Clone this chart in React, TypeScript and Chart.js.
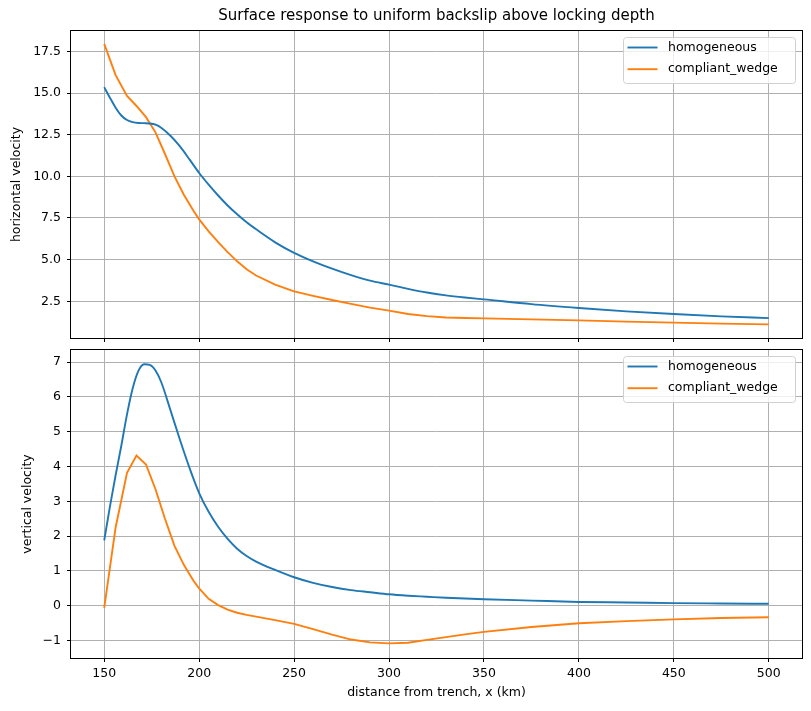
import React, { useEffect, useRef } from 'react';
import { Chart, registerables } from 'chart.js';

Chart.register(...registerables);

// Distance from trench (km) for the homogeneous model profiles
const distanceKm = [150, 153, 156, 159, 162, 165, 168, 171, 174, 177, 180, 185, 190, 195, 200, 205, 210, 215, 220, 225, 230, 240, 250, 260, 270, 280, 290, 300, 310, 320, 330, 340, 350, 375, 400, 425, 450, 475, 500];
// Distance from trench (km) for the compliant-wedge model profiles
const wedgeKm = [150, 156, 162, 167, 172, 177, 182, 187, 192, 197, 200, 205, 210, 215, 220, 225, 230, 240, 250, 260, 270, 280, 290, 300, 310, 320, 330, 340, 350, 375, 400, 425, 450, 475, 500];

const horizHomogeneous = [15.35, 14.72, 14.12, 13.65, 13.38, 13.25, 13.2, 13.19, 13.17, 13.1, 12.92, 12.42, 11.78, 11.0, 10.2, 9.5, 8.85, 8.25, 7.72, 7.24, 6.82, 6.04, 5.41, 4.9, 4.46, 4.07, 3.74, 3.5, 3.25, 3.03, 2.86, 2.73, 2.62, 2.33, 2.1, 1.9, 1.74, 1.6, 1.49];
const horizWedge = [17.95, 16.07, 14.82, 14.22, 13.55, 12.64, 11.34, 10.0, 8.88, 7.93, 7.42, 6.7, 6.05, 5.45, 4.9, 4.42, 4.05, 3.5, 3.1, 2.83, 2.58, 2.35, 2.12, 1.94, 1.74, 1.61, 1.53, 1.5, 1.48, 1.42, 1.36, 1.28, 1.22, 1.16, 1.12];

const vertHomogeneous = [1.88, 2.85, 3.75, 4.6, 5.5, 6.25, 6.75, 6.94, 6.92, 6.76, 6.43, 5.6, 4.75, 3.95, 3.24, 2.7, 2.27, 1.92, 1.64, 1.43, 1.27, 1.03, 0.82, 0.66, 0.54, 0.45, 0.39, 0.33, 0.29, 0.26, 0.23, 0.21, 0.19, 0.15, 0.11, 0.095, 0.076, 0.066, 0.057];
const vertWedge = [-0.06, 2.25, 3.82, 4.32, 4.06, 3.35, 2.5, 1.72, 1.17, 0.72, 0.5, 0.2, 0.02, -0.11, -0.2, -0.26, -0.31, -0.41, -0.52, -0.67, -0.83, -0.97, -1.05, -1.08, -1.06, -0.98, -0.9, -0.82, -0.75, -0.61, -0.5, -0.44, -0.39, -0.35, -0.33];

const xTicks = [150, 200, 250, 300, 350, 400, 450, 500];
const horizTicks = [2.5, 5, 7.5, 10, 12.5, 15, 17.5];
const horizTickLabels = ['2.5', '5.0', '7.5', '10.0', '12.5', '15.0', '17.5'];
const vertTicks = [-1, 0, 1, 2, 3, 4, 5, 6, 7];
const vertTickLabels = ['\u22121', '0', '1', '2', '3', '4', '5', '6', '7'];

const BLUE = '#1f77b4';
const ORANGE = '#ff7f0e';
const FAMILY = "'DejaVu Sans', sans-serif";

Chart.defaults.font.family = FAMILY;
Chart.defaults.font.size = 12.5;
Chart.defaults.color = '#000';

// Black box around the plotting area
const framePlugin = {
  id: 'frame',
  afterDatasetsDraw(chart: any) {
    const { ctx, chartArea: a } = chart;
    ctx.save();
    ctx.strokeStyle = '#000';
    ctx.lineWidth = 1;
    ctx.strokeRect(a.left - 0.5, a.top - 0.5, a.right - a.left + 1, a.bottom - a.top + 1);
    ctx.restore();
  },
};

// Legend box in the upper right corner of the plotting area
const cornerLegend = {
  id: 'cornerLegend',
  afterDraw(chart: any) {
    const { ctx, chartArea: a } = chart;
    const w = 172;
    const h = 46;
    const x = Math.round(a.right - 7 - w) + 0.5;
    const y = Math.round(a.top + 6) + 0.5;
    ctx.save();
    ctx.beginPath();
    ctx.roundRect(x, y, w, h, 3);
    ctx.fillStyle = 'rgba(255,255,255,0.8)';
    ctx.fill();
    ctx.strokeStyle = '#d0d0d0';
    ctx.lineWidth = 1;
    ctx.stroke();
    chart.data.datasets.forEach((ds: any, i: number) => {
      const cy = y + 10 + i * 21.7;
      ctx.strokeStyle = ds.borderColor;
      ctx.lineWidth = 1.9;
      ctx.beginPath();
      ctx.moveTo(x + 4, cy);
      ctx.lineTo(x + 34, cy);
      ctx.stroke();
      ctx.fillStyle = '#000';
      ctx.font = `12.5px ${FAMILY}`;
      ctx.textBaseline = 'middle';
      ctx.textAlign = 'left';
      ctx.fillText(ds.label, x + 44.5, cy);
    });
    ctx.restore();
  },
};

function series(label: string, xs: number[], ys: number[], color: string, smooth: boolean) {
  return {
    label,
    data: xs.map((x, i) => ({ x, y: ys[i] })),
    borderColor: color,
    backgroundColor: color,
    borderWidth: 1.9,
    pointRadius: 0,
    fill: false,
    tension: 0,
    cubicInterpolationMode: smooth ? 'monotone' : 'default',
  };
}

interface PanelOpts {
  datasets: any[];
  yMin: number;
  yMax: number;
  yTicks: number[];
  yLabels: string[];
  yTitle: string;
  yTitlePad: number;
  xHeight: number;
  showX: boolean;
  padTop: number;
  title?: string;
}

function panelConfig(o: PanelOpts): any {
  const grid = { color: '#b0b0b0', lineWidth: 1, tickColor: '#000', tickLength: 4, drawTicks: true };
  return {
    type: 'line',
    data: { datasets: o.datasets },
    options: {
      animation: false,
      responsive: false,
      events: [],
      layout: { padding: { left: 0, right: 9, top: o.padTop, bottom: 0 } },
      plugins: {
        legend: { display: false },
        tooltip: { enabled: false },
        title: o.title
          ? {
              display: true,
              text: o.title,
              fullSize: false,
              color: '#000',
              font: { size: 15, weight: 'normal', family: FAMILY },
              padding: { top: 7.5, bottom: 5.5 },
            }
          : { display: false },
      },
      scales: {
        x: {
          type: 'linear',
          min: 132.5,
          max: 517.5,
          afterBuildTicks: (s: any) => {
            s.ticks = xTicks.map((v) => ({ value: v }));
          },
          afterFit: (s: any) => {
            s.height = o.xHeight;
            s.paddingLeft = 0;
            s.paddingRight = 0;
          },
          grid,
          border: { display: false },
          ticks: { display: o.showX, padding: 4, maxRotation: 0, autoSkip: false, color: '#000', callback: (v: any) => String(v) },
          title: {
            display: o.showX,
            text: 'distance from trench, x (km)',
            color: '#000',
            font: { size: 12.5 },
            padding: { top: 0, bottom: 10.5 },
          },
        },
        y: {
          type: 'linear',
          min: o.yMin,
          max: o.yMax,
          afterBuildTicks: (s: any) => {
            s.ticks = o.yTicks.map((v) => ({ value: v }));
          },
          afterFit: (s: any) => {
            s.width = 71;
            s.paddingTop = 0;
            s.paddingBottom = 0;
          },
          grid,
          border: { display: false },
          ticks: {
            padding: 6,
            autoSkip: false,
            color: '#000',
            callback: (_v: any, i: number) => o.yLabels[i],
          },
          title: {
            display: true,
            text: o.yTitle,
            color: '#000',
            font: { size: 12.5 },
            padding: { top: o.yTitlePad, bottom: 0 },
          },
        },
      },
    },
    plugins: [framePlugin, cornerLegend],
  };
}

export default function App() {
  const topRef = useRef<HTMLCanvasElement>(null);
  const bottomRef = useRef<HTMLCanvasElement>(null);

  useEffect(() => {
    const top = new Chart(
      topRef.current as HTMLCanvasElement,
      panelConfig({
        datasets: [
          series('homogeneous', distanceKm, horizHomogeneous, BLUE, true),
          series('compliant_wedge', wedgeKm, horizWedge, ORANGE, false),
        ],
        yMin: 0.3,
        yMax: 18.72,
        yTicks: horizTicks,
        yLabels: horizTickLabels,
        yTitle: 'horizontal velocity',
        yTitlePad: 9,
        xHeight: 7,
        showX: false,
        padTop: 0,
        title: 'Surface response to uniform backslip above locking depth',
      })
    );
    const bottom = new Chart(
      bottomRef.current as HTMLCanvasElement,
      panelConfig({
        datasets: [
          series('homogeneous', distanceKm, vertHomogeneous, BLUE, true),
          series('compliant_wedge', wedgeKm, vertWedge, ORANGE, false),
        ],
        yMin: -1.5,
        yMax: 7.35,
        yTicks: vertTicks,
        yLabels: vertTickLabels,
        yTitle: 'vertical velocity',
        yTitlePad: 20,
        xHeight: 53,
        showX: true,
        padTop: 5,
      })
    );
    return () => {
      top.destroy();
      bottom.destroy();
    };
  }, []);

  return (
    <div style={{ position: 'absolute', left: 0, top: 0, width: 811, height: 711, background: '#fff' }}>
      <canvas ref={topRef} width={811} height={345} style={{ position: 'absolute', left: 0, top: 0, display: 'block' }} />
      <canvas ref={bottomRef} width={811} height={366} style={{ position: 'absolute', left: 0, top: 345, display: 'block' }} />
    </div>
  );
}
